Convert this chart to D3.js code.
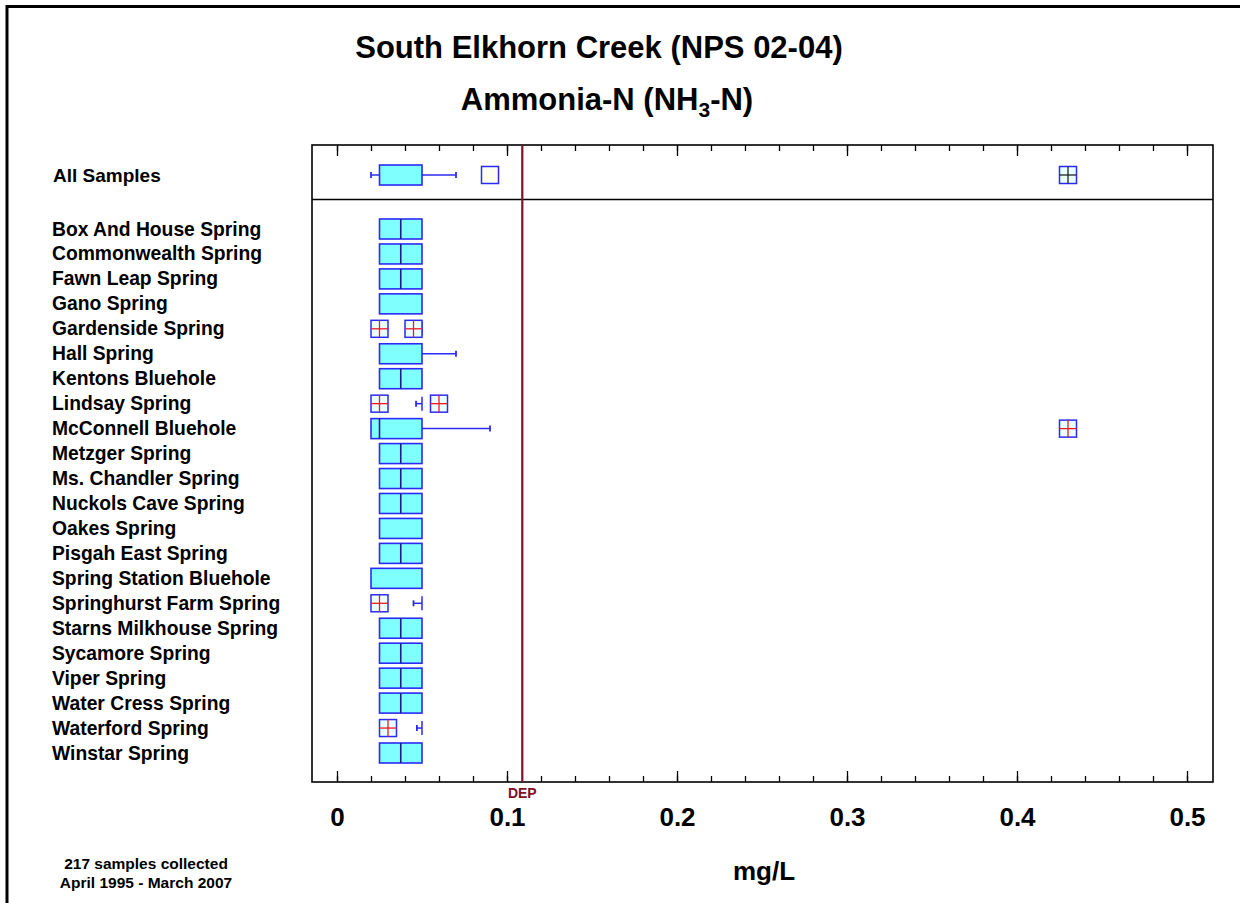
<!DOCTYPE html>
<html>
<head>
<meta charset="utf-8">
<script src="https://cdn.jsdelivr.net/npm/d3@7"></script>
<style>
  html, body { margin: 0; padding: 0; background: #fff; }
  svg { display: block; font-family: "Liberation Sans", Arial, sans-serif; }
</style>
</head>
<body>
<main></main>
<script>
// chart data (mg/L)
const sites = ["Box And House Spring", "Commonwealth Spring", "Fawn Leap Spring", "Gano Spring",
  "Gardenside Spring", "Hall Spring", "Kentons Bluehole", "Lindsay Spring", "McConnell Bluehole",
  "Metzger Spring", "Ms. Chandler Spring", "Nuckols Cave Spring", "Oakes Spring", "Pisgah East Spring",
  "Spring Station Bluehole", "Springhurst Farm Spring", "Starns Milkhouse Spring", "Sycamore Spring",
  "Viper Spring", "Water Cress Spring", "Waterford Spring", "Winstar Spring"]
const q1 = [0.025, 0.025, 0.025, 0.025, 0.05, 0.025, 0.025, 0.05, 0.02, 0.025, 0.025, 0.025,
  0.025, 0.025, 0.02, 0.05, 0.025, 0.025, 0.025, 0.025, 0.05, 0.025]
const medians = [0.0375, 0.0375, 0.0375, null, null, null, 0.0375, null, 0.025, 0.0375, 0.0375, 0.0375,
  null, 0.0375, null, null, 0.0375, 0.0375, 0.0375, 0.0375, null, 0.0375]
const q3 = [0.05, 0.05, 0.05, 0.05, 0.05, 0.05, 0.05, 0.05, 0.05, 0.05, 0.05, 0.05,
  0.05, 0.05, 0.05, 0.05, 0.05, 0.05, 0.05, 0.05, 0.05, 0.05]
const whiskLo = [null, null, null, null, 0.047, null, null, 0.0465, null, null, null, null,
  null, null, null, 0.045, null, null, null, null, 0.047, null]
const whiskHi = [null, null, null, null, null, 0.07, null, null, 0.09, null, null, null,
  null, null, null, null, null, null, null, null, null, null]
const outliers = [[], [], [], [], [0.025, 0.045], [], [], [0.025, 0.06], [0.43], [], [], [],
  [], [], [], [0.025], [], [], [], [], [0.03], []]

// all samples summary
const allStats = { q1: 0.025, q3: 0.05, lo: 0.02, hi: 0.07 }
const allNear = [0.09]
const allFar = [0.43]

const depLimit = 0.109
const xTicks = [0, 0.1, 0.2, 0.3, 0.4, 0.5]
const minorTicks = d3.range(0, 0.501, 0.02)

const width = 1240, height = 903
const plot = { left: 312, right: 1213, top: 145, bottom: 782, split: 199.5 }

const svg = d3.select("main").append("svg")
  .attr("width", width)
  .attr("height", height)
  .attr("viewBox", [0, 0, width, height])

// page border (top and left only)
svg.append("line").attr("x1", 6).attr("x2", width).attr("y1", 6.5).attr("y2", 6.5)
  .attr("stroke", "#000").attr("stroke-width", 3)
svg.append("line").attr("x1", 7).attr("x2", 7).attr("y1", 5).attr("y2", height)
  .attr("stroke", "#000").attr("stroke-width", 3)

// titles
svg.append("text").attr("x", 599).attr("y", 58).attr("text-anchor", "middle")
  .attr("font-size", 31).attr("font-weight", "bold")
  .text("South Elkhorn Creek (NPS 02-04)")
let t2 = svg.append("text").attr("x", 607).attr("y", 110).attr("text-anchor", "middle")
  .attr("font-size", 31).attr("font-weight", "bold")
t2.append("tspan").text("Ammonia-N (NH")
t2.append("tspan").attr("dy", 7).attr("font-size", 21).text("3")
t2.append("tspan").attr("dy", -7).text("-N)")

let x = d3.scaleLinear()
  .domain([0, 0.5])
  .range([337, 1187])

let y = d3.scalePoint()
  .domain(sites)
  .range([229, 753])

const allY = 175
const boxH = 20, symSize = 17
const boxFill = "#80ffff", boxStroke = "#2b2bf5", medColor = "#1c1c8a"

// frame
svg.append("rect")
  .attr("x", plot.left).attr("y", plot.top)
  .attr("width", plot.right - plot.left).attr("height", plot.bottom - plot.top)
  .attr("fill", "none").attr("stroke", "#000").attr("stroke-width", 1.6)
svg.append("line")
  .attr("x1", plot.left).attr("x2", plot.right).attr("y1", plot.split).attr("y2", plot.split)
  .attr("stroke", "#000").attr("stroke-width", 1.6)

// ticks: bottom (pointing up) and top (pointing down)
let tickStyle = g => {
  g.select(".domain").remove()
  g.selectAll(".tick line").attr("stroke", "#000").attr("stroke-width", 1.3)
}
svg.append("g").attr("transform", `translate(0,${plot.bottom})`)
  .call(d3.axisTop(x).tickValues(minorTicks).tickSize(6).tickFormat(""))
  .call(tickStyle)
svg.append("g").attr("transform", `translate(0,${plot.bottom})`)
  .call(d3.axisTop(x).tickValues(xTicks).tickSize(11).tickFormat(""))
  .call(tickStyle)
svg.append("g").attr("transform", `translate(0,${plot.top})`)
  .call(d3.axisBottom(x).tickValues(minorTicks).tickSize(6).tickFormat(""))
  .call(tickStyle)
svg.append("g").attr("transform", `translate(0,${plot.top})`)
  .call(d3.axisBottom(x).tickValues(xTicks).tickSize(11).tickFormat(""))
  .call(tickStyle)

// tick labels
let xAxis = svg.append("g").attr("transform", `translate(0,${plot.bottom})`)
  .call(d3.axisBottom(x).tickValues(xTicks).tickSize(0).tickPadding(26).tickFormat(d => d === 0 ? "0" : d3.format(".1f")(d)))
xAxis.select(".domain").remove()
xAxis.selectAll("text")
  .attr("font-family", "Liberation Sans, Arial, sans-serif")
  .attr("font-size", 26).attr("font-weight", "bold").attr("fill", "#000")

svg.append("text").attr("x", 764).attr("y", 880).attr("text-anchor", "middle")
  .attr("font-size", 26).attr("font-weight", "bold").text("mg/L")

// footer
svg.append("text").attr("x", 146).attr("y", 869).attr("text-anchor", "middle")
  .attr("font-size", 15.5).attr("font-weight", "bold").text("217 samples collected")
svg.append("text").attr("x", 146).attr("y", 888).attr("text-anchor", "middle")
  .attr("font-size", 15.5).attr("font-weight", "bold").text("April 1995 - March 2007")

// row labels
svg.append("text").attr("x", 53).attr("y", allY + 6.5)
  .attr("font-size", 19).attr("font-weight", "bold").text("All Samples")
svg.append("g").selectAll("text")
  .data(sites)
  .enter().append("text")
  .attr("x", 52)
  .attr("y", d => y(d) + 6.5)
  .attr("font-size", 19.3).attr("font-weight", "bold")
  .text(d => d)

let marks = svg.append("g")

let drawWhisker = (from, to, cy) => {
  marks.append("line")
    .attr("x1", x(from)).attr("x2", x(to)).attr("y1", cy).attr("y2", cy)
    .attr("stroke", boxStroke).attr("stroke-width", 1.5)
  marks.append("line")
    .attr("x1", x(to)).attr("x2", x(to)).attr("y1", cy - 3).attr("y2", cy + 3)
    .attr("stroke", boxStroke).attr("stroke-width", 1.8)
}

let drawBox = (lo, mid, hi, cy) => {
  if (hi - lo < 1e-9) {
    marks.append("line")
      .attr("x1", x(lo)).attr("x2", x(lo)).attr("y1", cy - 7).attr("y2", cy + 7)
      .attr("stroke", boxStroke).attr("stroke-width", 1.5)
    return
  }
  marks.append("rect")
    .attr("x", x(lo)).attr("y", cy - boxH / 2)
    .attr("width", x(hi) - x(lo)).attr("height", boxH)
    .attr("fill", boxFill).attr("stroke", boxStroke).attr("stroke-width", 1.6)
  if (mid != null) {
    marks.append("line")
      .attr("x1", x(mid)).attr("x2", x(mid)).attr("y1", cy - boxH / 2).attr("y2", cy + boxH / 2)
      .attr("stroke", medColor).attr("stroke-width", 1.6)
  }
}

let drawOutlier = (v, cy, crossColor) => {
  let cx = x(v), h = symSize / 2
  marks.append("rect")
    .attr("x", cx - h).attr("y", cy - h).attr("width", symSize).attr("height", symSize)
    .attr("fill", crossColor ? "#eaffff" : "#fffff0")
    .attr("stroke", boxStroke).attr("stroke-width", 1.5)
  if (crossColor) {
    marks.append("line").attr("x1", cx - h).attr("x2", cx + h).attr("y1", cy).attr("y2", cy)
      .attr("stroke", crossColor).attr("stroke-width", 1.3)
    marks.append("line").attr("x1", cx).attr("x2", cx).attr("y1", cy - h).attr("y2", cy + h)
      .attr("stroke", crossColor).attr("stroke-width", 1.3)
  }
}

// all samples row
drawWhisker(allStats.q1, allStats.lo, allY)
drawWhisker(allStats.q3, allStats.hi, allY)
drawBox(allStats.q1, null, allStats.q3, allY)
allNear.forEach(v => drawOutlier(v, allY, null))
allFar.forEach(v => drawOutlier(v, allY, "#222"))

// site rows
sites.forEach((s, i) => {
  let cy = y(s)
  if (whiskLo[i] != null) drawWhisker(q1[i], whiskLo[i], cy)
  if (whiskHi[i] != null) drawWhisker(q3[i], whiskHi[i], cy)
  drawBox(q1[i], medians[i], q3[i], cy)
  outliers[i].forEach(v => drawOutlier(v, cy, "#ee1c1c"))
})

// DEP reference line
svg.append("line")
  .attr("x1", x(depLimit)).attr("x2", x(depLimit))
  .attr("y1", plot.top).attr("y2", plot.bottom)
  .attr("stroke", "#7d1028").attr("stroke-width", 2.2)
svg.append("text").attr("x", x(depLimit)).attr("y", 798).attr("text-anchor", "middle")
  .attr("font-size", 14).attr("font-weight", "bold").attr("fill", "#7d1028").text("DEP")
</script>
</body>
</html>
